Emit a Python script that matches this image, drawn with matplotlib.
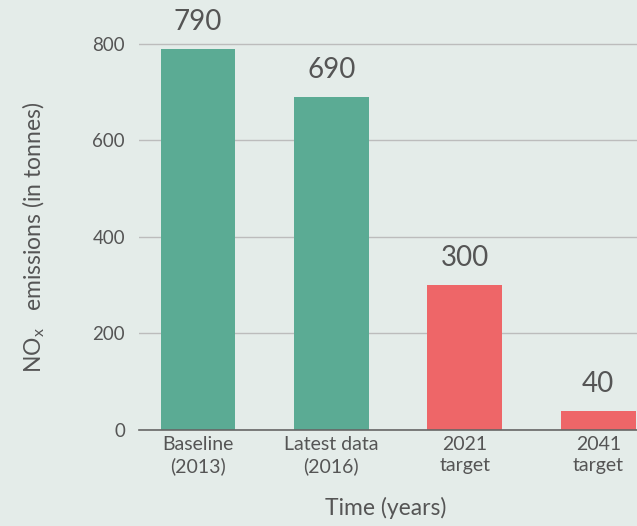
import matplotlib.pyplot as plt

# data
categories = ['Baseline\n(2013)', 'Latest data\n(2016)', '2021\ntarget', '2041\ntarget']
emissions = [790, 690, 300, 40]
bar_colors = ['#5bab94', '#5bab94', '#ee6668', '#ee6668']
y_ticks = [0, 200, 400, 600, 800]

bg = '#e4ece9'
txt = '#555555'

plt.rcParams['font.family'] = ['Lato', 'DejaVu Sans']

fig = plt.figure(figsize=(6.37, 5.26), dpi=100, facecolor=bg)
ax = fig.add_axes([0.218, 0.1825, 0.782, 0.8175], facecolor=bg)

x = list(range(len(categories)))
bars = ax.bar(x, emissions, width=0.56, color=bar_colors, zorder=3)

for b, v in zip(bars, emissions):
    ax.annotate(str(v), (b.get_x() + b.get_width() / 2, v),
                xytext=(0, 13.5), textcoords='offset points',
                ha='center', va='baseline', fontsize=20, color=txt)

ax.set_xlim(-0.443, 3.29)
ax.set_ylim(0, 891)
ax.set_yticks(y_ticks)
ax.set_xticks(x)
ax.set_xticklabels(categories, fontsize=14, color=txt, linespacing=1.3)
ax.tick_params(axis='y', length=0, pad=10, labelsize=13.5, labelcolor=txt)
ax.tick_params(axis='x', length=0, pad=4)

ax.grid(axis='y', color='#bcbcbc', linewidth=1, zorder=0)
for s in ['top', 'right', 'left']:
    ax.spines[s].set_visible(False)
ax.spines['bottom'].set_color('#666666')
ax.spines['bottom'].set_linewidth(1.2)
ax.spines['bottom'].set_zorder(4)

ax.set_ylabel(r'NO$_{\mathregular{x}}$   emissions (in tonnes)', fontsize=16.5, color=txt)
ax.yaxis.set_label_coords(-0.184, 0.449)
ax.set_xlabel('Time (years)', fontsize=16.5, color=txt)
ax.xaxis.set_label_coords(0.495, -0.155)

fig.savefig('out.png', dpi=100, facecolor=bg)
